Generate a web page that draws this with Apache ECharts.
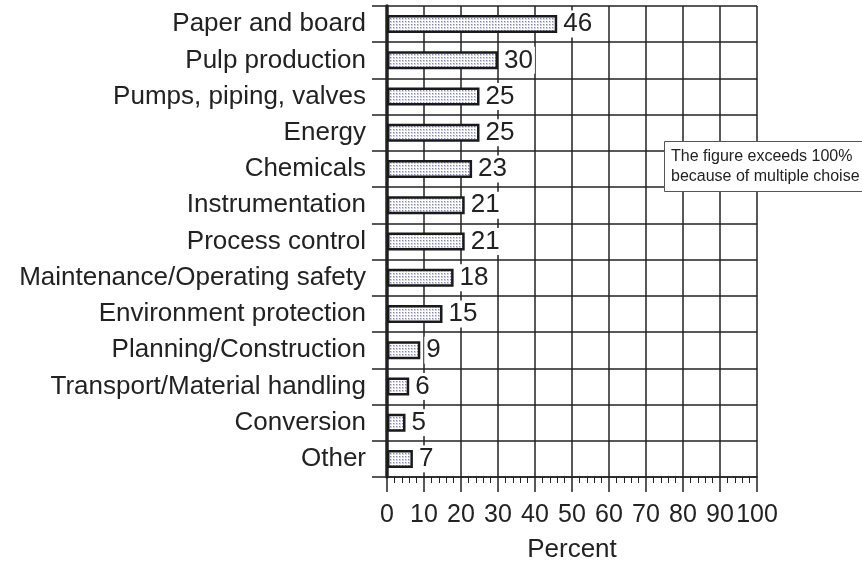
<!DOCTYPE html>
<html><head><meta charset="utf-8">
<script src="https://cdn.jsdelivr.net/npm/echarts@6/dist/echarts.min.js"></script>
<style>html,body{margin:0;padding:0;background:#fff}#c{width:862px;height:564px}</style>
</head><body><div id="c"></div>
<script>
const categories = ["Paper and board","Pulp production","Pumps, piping, valves","Energy","Chemicals","Instrumentation","Process control","Maintenance/Operating safety","Environment protection","Planning/Construction","Transport/Material handling","Conversion","Other"];
const values = [46,30,25,25,23,21,21,18,15,9,6,5,7];
const xTicks = [0,10,20,30,40,50,60,70,80,90,100];
const noteLines = ["The figure exceeds 100%","because of multiple choise"];

// dotted fill pattern
const pc = document.createElement('canvas');
pc.width = 3; pc.height = 3;
const g = pc.getContext('2d');
g.fillStyle = '#d0d0e8'; g.fillRect(0,0,3,3);
g.fillStyle = '#ffffff'; g.fillRect(2,0,1,3); g.fillRect(0,2,3,1);
g.fillStyle = '#8484aa'; g.fillRect(0,0,1,1);

const font = '"Liberation Sans", Arial, Helvetica, sans-serif';
const chart = echarts.init(document.getElementById('c'), null, {renderer:'canvas'});
chart.setOption({
  animation:false,
  backgroundColor:'#fff',
  textStyle:{fontFamily:font},
  grid:{left:387,right:105,top:6,bottom:87,containLabel:false,outerBoundsMode:'none'},
  title:{
    text: noteLines.join('\n'),
    left:664, top:141,
    padding:[6,6,5,7],
    borderColor:'#555', borderWidth:1, backgroundColor:'#fff',
    textStyle:{fontSize:16,fontWeight:'normal',color:'#222',lineHeight:20,fontFamily:font}
  },
  xAxis:{
    type:'value', min:0, max:100, interval:10,
    name:'Percent', nameLocation:'middle', nameGap:60,
    nameTextStyle:{fontSize:26,color:'#222',fontFamily:font},
    axisLine:{show:true,lineStyle:{color:'#222',width:1.5}},
    axisTick:{show:true,length:15,lineStyle:{color:'#222',width:1.5}},
    minorTick:{show:true,splitNumber:5,length:6,lineStyle:{color:'#222',width:1}},
    axisLabel:{fontSize:25,color:'#222',margin:26,fontFamily:font,
      formatter:v=>xTicks.includes(v)?String(v):''},
    splitLine:{show:true,lineStyle:{color:'#222',width:1.5}}
  },
  yAxis:{
    type:'category', data:categories, inverse:true,
    axisLine:{show:true,lineStyle:{color:'#222',width:3.5}},
    axisTick:{show:true,length:15,lineStyle:{color:'#222',width:1.5}},
    axisLabel:{fontSize:26,color:'#222',margin:21,fontFamily:font},
    splitLine:{show:true,lineStyle:{color:'#222',width:1.5}}
  },
  series:[{
    type:'bar', data:values, barWidth:18,
    itemStyle:{color:{image:pc,repeat:'repeat'},borderColor:'#1a1a1a',borderWidth:2.5},
    label:{show:true,position:'right',distance:4,fontSize:26,color:'#222',
      backgroundColor:'#fff',padding:[1,2,0,2],fontFamily:font},
    z:3
  }]
});
</script></body></html>
